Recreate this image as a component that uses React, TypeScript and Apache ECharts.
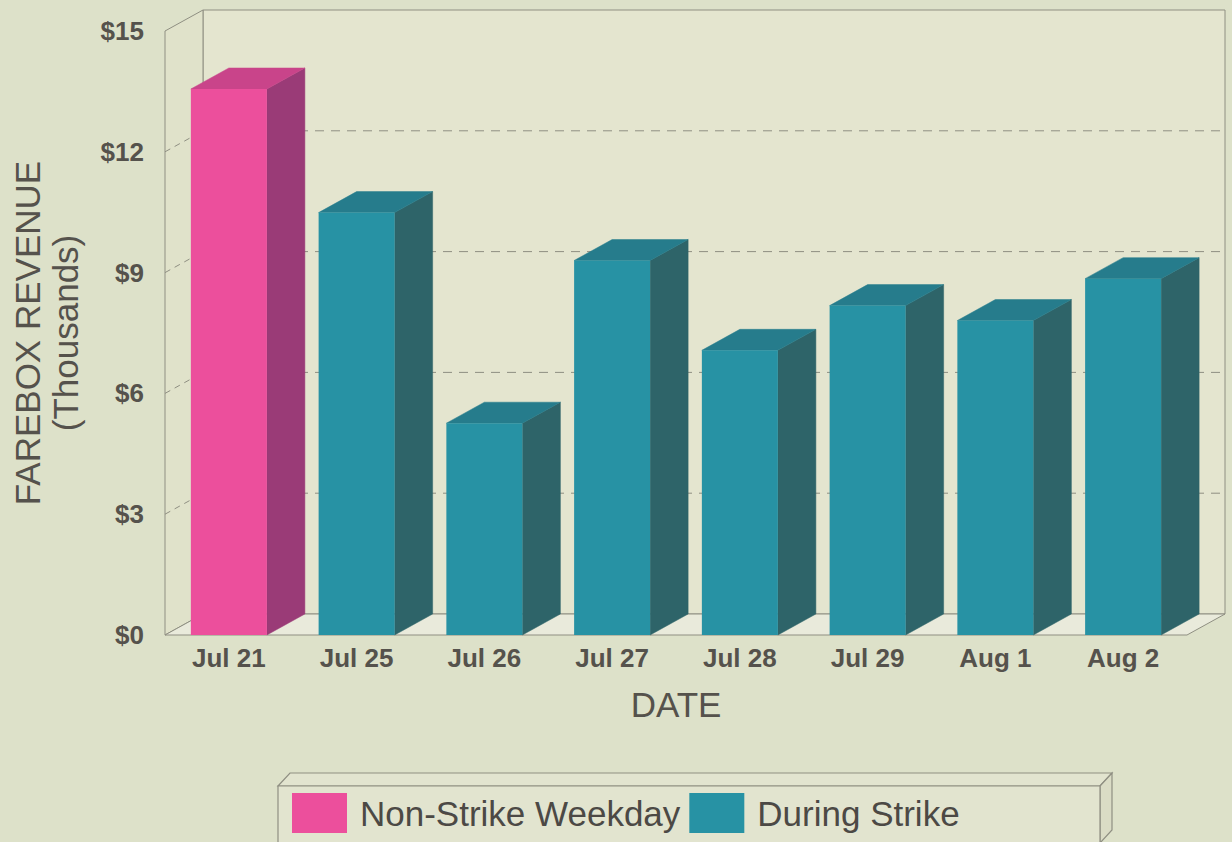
import React, { useEffect, useRef } from "react";
import * as echarts from "echarts";

const categories = ["Jul 21", "Jul 25", "Jul 26", "Jul 27", "Jul 28", "Jul 29", "Aug 1", "Aug 2"];
const nonStrikeWeekday: (number | null)[] = [13.56, null, null, null, null, null, null, null];
const duringStrike: (number | null)[] = [null, 10.49, 5.26, 9.3, 7.07, 8.18, 7.81, 8.85];
const yTicks = [0, 3, 6, 9, 12, 15];

const Y_MAX = 15;
const DX = 38;
const DY = -21;
const BAR_RATIO = 0.595;

const PINK = { front: "#ec4f9c", top: "#c9448a", side: "#9a3b77" };
const TEAL = { front: "#2792a4", top: "#267c8c", side: "#2e6469" };
const TEXT = "#55524c";
const LINE = "#8f8f82";

function toPairs(arr: (number | null)[]) {
  const out: number[][] = [];
  arr.forEach((v, i) => {
    if (v != null) out.push([i, v]);
  });
  return out;
}

function barRenderer(col: { front: string; top: string; side: string }) {
  return (params: any, api: any) => {
    const idx = api.value(0);
    const v = api.value(1);
    const top = api.coord([idx, v]);
    const base = api.coord([idx, 0]);
    const bw = api.size([1, 0])[0] * BAR_RATIO;
    const l = top[0] - bw / 2;
    const r = top[0] + bw / 2;
    return {
      type: "group",
      children: [
        {
          type: "polygon",
          shape: { points: [[r, top[1]], [r + DX, top[1] + DY], [r + DX, base[1] + DY], [r, base[1]]] },
          style: { fill: col.side, stroke: col.side, lineWidth: 0.5 },
        },
        {
          type: "polygon",
          shape: { points: [[l, top[1]], [r, top[1]], [r + DX, top[1] + DY], [l + DX, top[1] + DY]] },
          style: { fill: col.top, stroke: col.top, lineWidth: 0.5 },
        },
        {
          type: "rect",
          shape: { x: l, y: top[1], width: bw, height: base[1] - top[1] },
          style: { fill: col.front },
        },
      ],
    };
  };
}

function wallRenderer(params: any, api: any) {
  const band = api.size([1, 0])[0];
  const p0 = api.coord([0, 0]);
  const p1 = api.coord([categories.length - 1, 0]);
  const pt = api.coord([0, Y_MAX]);
  const x0 = p0[0] - band / 2;
  const x1 = p1[0] + band / 2;
  const y0 = p0[1];
  const yt = pt[1];
  const children: any[] = [
    {
      type: "polygon",
      shape: { points: [[x0 + DX, yt + DY], [x1 + DX, yt + DY], [x1 + DX, y0 + DY], [x0 + DX, y0 + DY]] },
      style: { fill: "#e4e5cf", stroke: LINE, lineWidth: 1 },
    },
    {
      type: "polygon",
      shape: { points: [[x0, yt], [x0 + DX, yt + DY], [x0 + DX, y0 + DY], [x0, y0]] },
      style: { fill: "#e0e2ca", stroke: LINE, lineWidth: 1 },
    },
    {
      type: "polygon",
      shape: { points: [[x0, y0], [x1, y0], [x1 + DX, y0 + DY], [x0 + DX, y0 + DY]] },
      style: { fill: "#e9eadb", stroke: LINE, lineWidth: 1 },
    },
  ];
  yTicks.forEach((t) => {
    if (t === 0 || t === Y_MAX) return;
    const y = api.coord([0, t])[1];
    children.push({
      type: "line",
      shape: { x1: x0, y1: y, x2: x0 + DX, y2: y + DY },
      style: { stroke: LINE, lineWidth: 1, lineDash: [6, 5] },
    });
    children.push({
      type: "line",
      shape: { x1: x0 + DX, y1: y + DY, x2: x1 + DX, y2: y + DY },
      style: { stroke: LINE, lineWidth: 1, lineDash: [9, 7] },
    });
  });
  return { type: "group", children };
}

export default function App() {
  const ref = useRef<HTMLDivElement>(null);
  useEffect(() => {
    const chart = echarts.init(ref.current!, null, { renderer: "svg" });
    const font = "'Liberation Sans', Arial, Helvetica, sans-serif";
    chart.setOption({
      animation: false,
      backgroundColor: "#dde1c9",
      textStyle: { fontFamily: font },
      grid: { left: 165, right: 45, top: 31, bottom: 207, containLabel: false, outerBoundsMode: "none" },
      xAxis: {
        type: "category",
        data: categories,
        axisLine: { show: false },
        axisTick: { show: false },
        axisLabel: { color: TEXT, fontSize: 26, fontWeight: "bold", margin: 10, fontFamily: font },
        name: "DATE",
        nameLocation: "middle",
        nameGap: 52,
        nameTextStyle: { color: TEXT, fontSize: 35, fontFamily: font },
      },
      yAxis: {
        type: "value",
        min: 0,
        max: Y_MAX,
        interval: 3,
        axisLine: { show: false },
        axisTick: { show: false },
        splitLine: { show: false },
        axisLabel: {
          color: TEXT,
          fontSize: 26,
          fontWeight: "bold",
          margin: 21,
          fontFamily: font,
          formatter: (v: number) => "$" + v,
        },
        name: "FAREBOX REVENUE\n(Thousands)",
        nameLocation: "middle",
        nameRotate: 90,
        nameGap: 81,
        nameTextStyle: { color: TEXT, fontSize: 35, lineHeight: 38, fontFamily: font },
      },
      legend: {
        left: 292,
        top: 793,
        padding: 0,
        itemWidth: 55,
        itemHeight: 40,
        itemGap: 9,
        icon: "rect",
        data: ["Non-Strike Weekday", "During Strike"],
        textStyle: { color: "#4c4945", fontSize: 35, fontFamily: font, padding: [0, 0, 0, 8] },
      },
      graphic: [
        {
          type: "polygon",
          z: -1,
          shape: { points: [[278, 786], [290, 773], [1112, 773], [1100, 786]] },
          style: { fill: "#e2e4cf", stroke: LINE, lineWidth: 1.2 },
        },
        {
          type: "polygon",
          z: -1,
          shape: { points: [[1100, 786], [1112, 773], [1112, 830], [1100, 843]] },
          style: { fill: "#dadcc5", stroke: LINE, lineWidth: 1.2 },
        },
        {
          type: "rect",
          z: -1,
          shape: { x: 278, y: 786, width: 822, height: 70 },
          style: { fill: "#e2e4cf", stroke: LINE, lineWidth: 1.2 },
        },
      ],
      series: [
        {
          type: "custom",
          name: "walls",
          silent: true,
          z: 1,
          renderItem: wallRenderer,
          data: [[0, 0]],
          encode: { x: 0, y: 1 },
        },
        {
          type: "custom",
          name: "Non-Strike Weekday",
          z: 2,
          itemStyle: { color: PINK.front },
          renderItem: barRenderer(PINK),
          data: toPairs(nonStrikeWeekday),
          encode: { x: 0, y: 1 },
        },
        {
          type: "custom",
          name: "During Strike",
          z: 2,
          itemStyle: { color: TEAL.front },
          renderItem: barRenderer(TEAL),
          data: toPairs(duringStrike),
          encode: { x: 0, y: 1 },
        },
      ],
    });
    return () => chart.dispose();
  }, []);
  return (
    <div
      ref={ref}
      style={{ position: "fixed", left: 0, top: 0, width: 1232, height: 842, background: "#dde1c9" }}
    />
  );
}
